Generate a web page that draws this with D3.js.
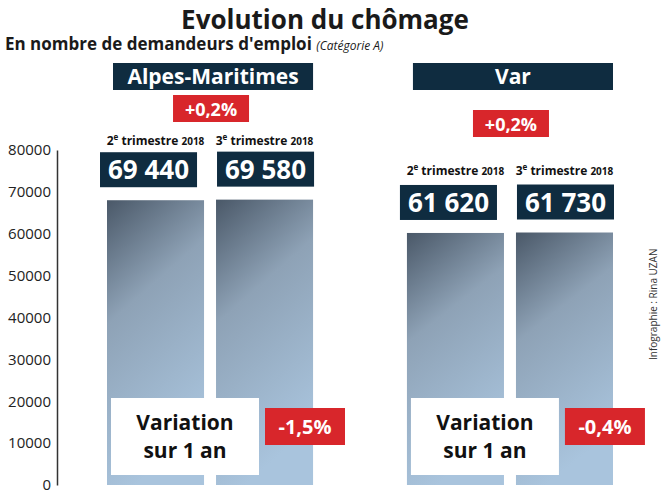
<!DOCTYPE html><html><head><meta charset="utf-8">
<script src="https://cdn.jsdelivr.net/npm/d3@7"></script>
<style>body{margin:0;background:#fff}text{font-family:"Open Sans",sans-serif}</style></head><body>
<svg id="c" width="662" height="493"></svg>
<script>
const regions=["Alpes-Maritimes","Var"];
const quarters=["2e trimestre 2018","3e trimestre 2018"];
const values=[[69440,69580],[61620,61730]];
const quarterVar=["+0,2%","+0,2%"];
const yearVar=["-1,5%","-0,4%"];
const yTicks=[0,10000,20000,30000,40000,50000,60000,70000,80000];
const navy="#0f2c40",red="#d8262b";
const cond="DejaVu Sans Condensed, DejaVu Sans";
const svg=d3.select("#c");
const y=d3.scaleLinear().domain([0,80000]).range([485,150]);
const xr=d3.scaleBand().domain(regions).range([107,613]).paddingInner(0.313);
const xq=d3.scaleBand().domain(quarters).range([0,xr.bandwidth()]).paddingInner(0.11);
const defs=svg.append("defs");
const g=defs.append("linearGradient").attr("id","bg").attr("x1",0).attr("y1",0).attr("x2",0.3).attr("y2",1);
g.append("stop").attr("offset",0).attr("stop-color","#4a5868");
g.append("stop").attr("offset",0.4).attr("stop-color","#8ea2b6");
g.append("stop").attr("offset",1).attr("stop-color","#a9c4dd");
svg.append("text").attr("x",325).attr("y",29).attr("text-anchor","middle").attr("font-size",26).attr("font-weight","bold").attr("fill","#1a1a1a").attr("font-family",cond).text("Evolution du chômage");
const st=svg.append("text").attr("x",5).attr("y",50).attr("font-size",17).attr("font-weight","bold").attr("fill","#1a1a1a").attr("font-family",cond);
st.append("tspan").text("En nombre de demandeurs d'emploi ");
st.append("tspan").attr("font-size",12).attr("font-weight","normal").attr("font-style","italic").text("(Catégorie A)");
const ax=svg.append("g").attr("transform","translate(57,0)").call(d3.axisLeft(y).tickValues(yTicks).tickSize(0).tickPadding(6).tickFormat(d3.format("d")));
ax.select(".domain").attr("stroke","#333").attr("stroke-width",1.5);
ax.selectAll("text").attr("font-size",15).attr("fill","#222").attr("font-family","Roboto");
regions.forEach((r,i)=>{
  const x0=xr(r), bw=xr.bandwidth();
  const off=i===0?0:30;
  svg.append("rect").attr("x",x0+6).attr("y",63).attr("width",bw-6).attr("height",27).attr("fill",navy);
  svg.append("text").attr("x",x0+3+bw/2).attr("y",84).attr("text-anchor","middle").attr("font-size",21).attr("font-weight","bold").attr("fill","#fff").attr("font-family",cond).text(r);
  const ry=i===0?95:110;
  svg.append("rect").attr("x",x0+bw/2-37).attr("y",ry).attr("width",76).attr("height",27).attr("fill",red);
  svg.append("text").attr("x",x0+bw/2+1).attr("y",ry+21).attr("text-anchor","middle").attr("font-size",18).attr("font-weight","bold").attr("fill","#fff").attr("font-family",cond).text(quarterVar[i]);
  quarters.forEach((q,j)=>{
    const v=values[i][j], bx=x0+xq(q), w=xq.bandwidth();
    svg.append("rect").attr("x",bx).attr("y",y(v)+6).attr("width",w).attr("height",485-y(v)-6).attr("fill","url(#bg)");
    const [a,b]=q.split(" trimestre ");
    const t=svg.append("text").attr("x",bx+w/2).attr("y",145+off).attr("text-anchor","middle").attr("font-size",12).attr("font-weight","bold").attr("fill","#111").attr("font-family",cond);
    t.append("tspan").text(a.slice(0,1));t.append("tspan").attr("font-size",8).attr("dy",-5).text(a.slice(1));
    t.append("tspan").attr("dy",5).text(" trimestre  ");t.append("tspan").attr("font-size",10).text(b);
    const by=y(v)-42, vx=bx+(j?1:-7);
    svg.append("rect").attr("x",vx).attr("y",by).attr("width",w).attr("height",35).attr("fill",navy);
    svg.append("text").attr("x",vx+w/2).attr("y",by+27).attr("text-anchor","middle").attr("font-size",26).attr("font-weight","bold").attr("fill","#fff").attr("font-family",cond).text(d3.format(",")(v).replace(","," "));
  });
  svg.append("line").attr("x1",x0+bw/2).attr("x2",x0+bw/2).attr("y1",125+off).attr("y2",485).attr("stroke","#fff").attr("stroke-width",3);
  svg.append("rect").attr("x",x0+4).attr("y",398).attr("width",148).attr("height",77).attr("fill","#fff");
  svg.append("text").attr("x",x0+78).attr("y",430).attr("text-anchor","middle").attr("font-size",21).attr("font-weight","bold").attr("fill","#111").attr("font-family",cond).text("Variation");
  svg.append("text").attr("x",x0+78).attr("y",458).attr("text-anchor","middle").attr("font-size",21).attr("font-weight","bold").attr("fill","#111").attr("font-family",cond).text("sur 1 an");
  svg.append("rect").attr("x",x0+158).attr("y",408).attr("width",80).attr("height",37).attr("fill",red);
  svg.append("text").attr("x",x0+198).attr("y",434).attr("text-anchor","middle").attr("font-size",20).attr("font-weight","bold").attr("fill","#fff").attr("font-family",cond).text(yearVar[i]);
});
svg.append("text").attr("transform","translate(657,360) rotate(-90)").attr("font-size",10).attr("fill","#333").attr("font-family",cond).text("Infographie : Rina UZAN");
</script></body></html>
